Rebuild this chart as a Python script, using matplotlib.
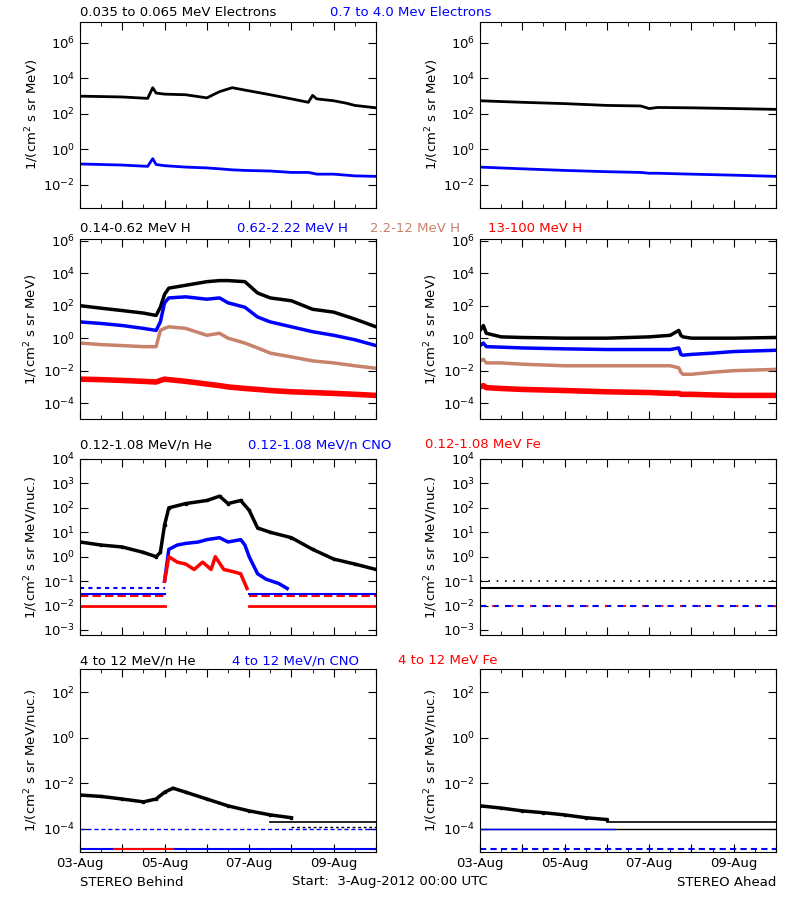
import numpy as np
import matplotlib
matplotlib.use("Agg")
import matplotlib.pyplot as plt
from matplotlib.ticker import FixedLocator, MultipleLocator

# ---- data (time in days since 3-Aug-2012 00:00) ----
t_e_L = [0, 0.5, 1.0, 1.6, 1.72, 1.8, 2.0, 2.5, 3.0, 3.3, 3.6, 3.9, 4.5, 5.0, 5.4, 5.5, 5.6, 6.0, 6.3, 6.5, 7.0]
e_lo_L = [1000, 950, 900, 750, 3000, 1500, 1300, 1200, 800, 1800, 3000, 2200, 1200, 700, 450, 1100, 700, 550, 400, 300, 220]
e_hi_L = [0.15, 0.14, 0.13, 0.11, 0.30, 0.14, 0.12, 0.10, 0.09, 0.08, 0.07, 0.065, 0.06, 0.05, 0.05, 0.045, 0.04, 0.04, 0.035, 0.032, 0.03]
t_e_R = [0, 1, 2, 3, 3.8, 4.0, 4.2, 5, 6, 7]
e_lo_R = [550, 450, 380, 300, 280, 200, 230, 220, 200, 180]
e_hi_R = [0.10, 0.08, 0.065, 0.055, 0.05, 0.045, 0.045, 0.04, 0.035, 0.03]

t_h_L = [0, 0.5, 1.0, 1.5, 1.8, 1.9, 2.0, 2.1, 2.5, 3.0, 3.3, 3.5, 3.9, 4.2, 4.5, 5.0, 5.5, 6.0, 6.5, 7.0]
h1_L = [100, 70, 50, 35, 25, 80, 500, 1200, 1800, 3000, 3500, 3500, 3000, 600, 300, 200, 60, 40, 15, 5]
h2_L = [10, 8, 6, 4, 3, 10, 150, 300, 350, 250, 300, 150, 80, 20, 10, 5, 2.5, 1.5, 0.8, 0.35]
h3_L = [0.5, 0.4, 0.35, 0.3, 0.3, 3, 4, 5, 4, 1.5, 2, 1.0, 0.5, 0.25, 0.12, 0.07, 0.04, 0.03, 0.02, 0.014]
h4_L = [3e-3, 2.8e-3, 2.5e-3, 2.2e-3, 2e-3, 2.5e-3, 3e-3, 2.8e-3, 2.2e-3, 1.5e-3, 1.2e-3, 1e-3, 8e-4, 7e-4, 6e-4, 5e-4, 4.5e-4, 4e-4, 3.5e-4, 3e-4]
t_h_R = [0, 0.08, 0.15, 0.5, 1.0, 2.0, 3.0, 4.0, 4.5, 4.7, 4.75, 4.8, 5.0, 5.5, 6.0, 7.0]
h1_R = [3, 6, 2, 1.2, 1.1, 1.0, 1.0, 1.2, 1.5, 3, 1.5, 1.2, 1.0, 1.0, 1.0, 1.1]
h2_R = [0.35, 0.5, 0.3, 0.28, 0.25, 0.22, 0.2, 0.2, 0.2, 0.25, 0.1, 0.09, 0.1, 0.12, 0.15, 0.18]
h3_R = [0.04, 0.05, 0.03, 0.03, 0.025, 0.02, 0.02, 0.02, 0.02, 0.015, 0.008, 0.006, 0.006, 0.008, 0.01, 0.012]
h4_R = [1e-3, 1.2e-3, 9e-4, 8e-4, 7e-4, 6e-4, 5e-4, 4.5e-4, 4e-4, 4e-4, 3.5e-4, 3.5e-4, 3.5e-4, 3.2e-4, 3e-4, 3e-4]

t_he_L = [0, 0.5, 1.0, 1.5, 1.8, 1.9, 2.0, 2.1, 2.5, 3.0, 3.3, 3.5, 3.8, 4.0, 4.2, 4.5, 5.0, 5.5, 6.0, 6.5, 7.0]
he_L = [4, 3, 2.5, 1.5, 1.0, 1.5, 20, 100, 150, 200, 300, 150, 200, 80, 15, 10, 6, 2, 0.8, 0.5, 0.3]
t_cno_L = [2.0, 2.1, 2.3, 2.5, 2.8, 3.0, 3.3, 3.5, 3.8, 3.9, 4.0, 4.2, 4.4, 4.7, 4.9]
cno_L = [0.1, 2, 3, 3.5, 4, 5, 6, 4, 5, 3, 1, 0.2, 0.12, 0.08, 0.05]
t_fe_L = [2.0, 2.1, 2.3, 2.5, 2.7, 2.9, 3.1, 3.2, 3.4, 3.6, 3.8, 3.95]
fe_L = [0.1, 1.0, 0.6, 0.5, 0.3, 0.6, 0.3, 1.0, 0.3, 0.25, 0.2, 0.05]
bg_cno = 0.03
bg_fe = 0.01
he_R_level = 0.05
he_R_dots = 0.1

t_he4_L = [0, 0.5, 1.0, 1.5, 1.8, 2.0, 2.2, 2.5, 3.0, 3.5, 4.0, 4.5, 5.0]
he4_L = [3e-3, 2.6e-3, 2e-3, 1.5e-3, 2e-3, 4e-3, 6e-3, 4e-3, 2e-3, 1e-3, 6e-4, 4e-4, 3e-4]
t_he4_R = [0, 0.5, 1.0, 1.5, 2.0, 2.5, 3.0]
he4_R = [1e-3, 8e-4, 6e-4, 5e-4, 4e-4, 3e-4, 2.5e-4]
he4_floor = 2e-4
cno4_level = 1e-4
low4_level = 1.2e-5

days = np.arange(0, 8)
xlabels = ['03-Aug', '', '05-Aug', '', '07-Aug', '', '09-Aug', '']

fig = plt.figure(figsize=(8, 9), dpi=100)
plt.rcParams['font.family'] = ['DejaVu Sans']
fs = 9.5

rows = [(0.769, 0.207, (5e-4, 1.6e7), [1e-2, 1e0, 1e2, 1e4, 1e6], "1/(cm$^2$ s sr MeV)"),
        (0.534, 0.200, (1e-5, 1.2e6), [1e-4, 1e-2, 1e0, 1e2, 1e4, 1e6], "1/(cm$^2$ s sr MeV)"),
        (0.294, 0.196, (6e-4, 1e4), [1e-3, 1e-2, 1e-1, 1e0, 1e1, 1e2, 1e3, 1e4], "1/(cm$^2$ s sr MeV/nuc.)"),
        (0.053, 0.204, (9e-6, 1.1e3), [1e-4, 1e-2, 1e0, 1e2], "1/(cm$^2$ s sr MeV/nuc.)")]

axes = []
for (y0, h, yl, yt, ylab) in rows:
    pair = []
    for x0 in (0.1, 0.6):
        ax = fig.add_axes([x0, y0, 0.37, h])
        ax.set_yscale('log')
        ax.set_ylim(*yl)
        ax.set_xlim(0, 7)
        ax.yaxis.set_major_locator(FixedLocator(yt))
        ax.yaxis.set_minor_locator(FixedLocator([]))
        ax.xaxis.set_major_locator(FixedLocator(days))
        ax.xaxis.set_minor_locator(MultipleLocator(0.5))
        ax.tick_params(which='both', direction='in', top=True, right=True, labelsize=fs)
        ax.tick_params(which='major', length=6)
        ax.tick_params(which='minor', length=3)
        ax.set_ylabel(ylab, fontsize=fs, labelpad=2)
        ax.set_xticklabels([])
        pair.append(ax)
    axes.append(pair)

for ax in axes[3]:
    ax.set_xticklabels(xlabels)

lw = 2.0
# row 1
a, b = axes[0]
a.plot(t_e_L, e_lo_L, color='black', lw=lw)
a.plot(t_e_L, e_hi_L, color='blue', lw=lw)
b.plot(t_e_R, e_lo_R, color='black', lw=lw)
b.plot(t_e_R, e_hi_R, color='blue', lw=lw)
# row 2
a, b = axes[1]
a.plot(t_h_L, h1_L, color='black', lw=2.5)
a.plot(t_h_L, h2_L, color='blue', lw=2.5)
a.plot(t_h_L, h3_L, color='#c8826a', lw=2.5)
a.plot(t_h_L, h4_L, color='red', lw=4)
b.plot(t_h_R, h1_R, color='black', lw=2.5)
b.plot(t_h_R, h2_R, color='blue', lw=2.5)
b.plot(t_h_R, h3_R, color='#c8826a', lw=2.5)
b.plot(t_h_R, h4_R, color='red', lw=4)
# row 3
a, b = axes[2]
a.plot(t_he_L, he_L, color='black', lw=2.5, marker='s', ms=1.5)
a.plot(t_cno_L, cno_L, color='blue', lw=2.5)
a.plot(t_fe_L, fe_L, color='red', lw=2.5)
for seg in ([0, 2.0], [4.0, 7]):
    a.plot(seg, [bg_cno, bg_cno], color='blue', lw=1.5)
    a.plot(seg, [bg_cno * 0.8, bg_cno * 0.8], color='red', lw=1.5, ls=(0, (4, 2)))
    a.plot(seg, [bg_fe, bg_fe], color='red', lw=2)
a.plot([0, 2.0], [0.05, 0.05], color='blue', lw=1.5, ls=(0, (2, 2)))
b.plot([0, 7], [he_R_level, he_R_level], color='black', lw=1.5)
b.plot([0, 7], [he_R_dots, he_R_dots], color='black', lw=1.2, ls=(0, (1, 4)))
b.plot([0, 7], [bg_fe, bg_fe], color='blue', lw=1.5, ls=(0, (3, 3)))
b.plot([0, 7], [bg_fe, bg_fe], color='red', lw=1.5, ls=(3, (1, 8)))
# row 4
a, b = axes[3]
a.plot(t_he4_L, he4_L, color='black', lw=2.5, marker='s', ms=1.5)
a.plot([4.5, 7], [he4_floor, he4_floor], color='black', lw=1.2)
a.plot([5.0, 7], [he4_floor * 0.6, he4_floor * 0.6], color='black', lw=1, ls=(0, (2, 2)))
a.plot([0, 7], [cno4_level, cno4_level], color='blue', lw=1, ls=(0, (3, 2)))
a.plot([0, 7], [low4_level, low4_level], color='blue', lw=1.5)
a.plot([0.8, 2.2], [low4_level, low4_level], color='red', lw=1.5)
b.plot(t_he4_R, he4_R, color='black', lw=2.5, marker='s', ms=1.5)
b.plot([3.0, 7], [he4_floor, he4_floor], color='black', lw=1.2)
b.plot([0, 7], [cno4_level, cno4_level], color='black', lw=1)
b.plot([0, 3.2], [cno4_level, cno4_level], color='blue', lw=1)
b.plot([0, 7], [low4_level, low4_level], color='blue', lw=1.5, ls=(0, (3, 2)))

# titles
def ftext(xpx, ypx, s, c, ha='left'):
    fig.text(xpx / 800, 1 - ypx / 900, s, color=c, fontsize=fs, ha=ha, va='center')

ftext(80, 13, '0.035 to 0.065 MeV Electrons', 'black')
ftext(330, 13, '0.7 to 4.0 Mev Electrons', 'blue')
ftext(80, 229, '0.14-0.62 MeV H', 'black')
ftext(237, 229, '0.62-2.22 MeV H', 'blue')
ftext(370, 229, '2.2-12 MeV H', '#c8826a')
ftext(488, 229, '13-100 MeV H', 'red')
ftext(80, 445, '0.12-1.08 MeV/n He', 'black')
ftext(248, 445, '0.12-1.08 MeV/n CNO', 'blue')
ftext(425, 445, '0.12-1.08 MeV Fe', 'red')
ftext(80, 661, '4 to 12 MeV/n He', 'black')
ftext(232, 661, '4 to 12 MeV/n CNO', 'blue')
ftext(398, 661, '4 to 12 MeV Fe', 'red')
ftext(80, 882, 'STEREO Behind', 'black')
ftext(292, 882, 'Start:  3-Aug-2012 00:00 UTC', 'black')
ftext(776, 882, 'STEREO Ahead', 'black', ha='right')

fig.savefig('out.png', dpi=100)
